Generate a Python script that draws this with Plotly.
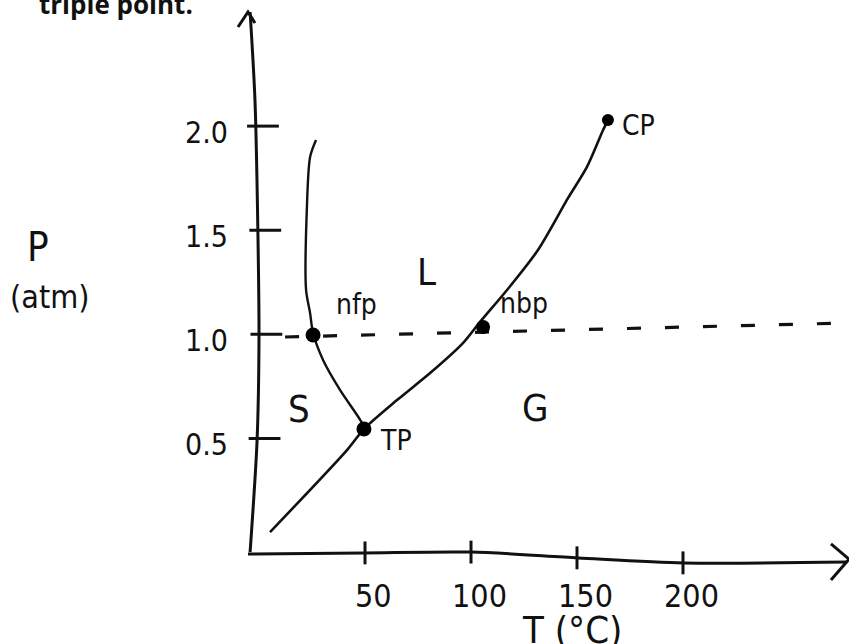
import numpy as np
import plotly.graph_objects as go

# Phase diagram sketch: T in °C, P in atm

# solid-liquid boundary (from triple point upwards)
sl_T = [49.5, 48.6, 38.2, 30.2, 25.5, 24.1, 22.2, 22.6, 24.1, 26.9]
sl_P = [0.545, 0.574, 0.733, 0.877, 1.006, 1.102, 1.213, 1.611, 1.852, 1.933]

# solid-gas + liquid-gas boundary, ending at the critical point
lg_T = [5.2, 41.5, 49.5, 65.1, 80.7, 96.2, 104.2, 117.0, 131.6, 145.8, 154.7, 162.3, 164.6]
lg_P = [0.050, 0.444, 0.545, 0.684, 0.814, 0.958, 1.059, 1.213, 1.405, 1.655, 1.804, 1.981, 2.029]

# marked points
pt_names = ["nfp", "TP", "nbp", "CP"]
pt_T = [25.5, 49.5, 105.7, 164.6]
pt_P = [0.997, 0.545, 1.035, 2.029]
pt_label_T = [46.2, 64.6, 125.0, 178.8]
pt_label_P = [1.141, 0.492, 1.150, 2.005]

# dashed 1 atm line
atm_T = [12.3, 276.4]
atm_P = [0.987, 1.054]

# hand drawn axes
yax_T = [-4.2, -0.9, 0.0, -0.5, -1.9, -4.2]
yax_P = [-0.046, 0.492, 0.987, 1.477, 2.125, 2.548]
yarrow_T = [-9.9, -5.2, -1.9]
yarrow_P = [2.476, 2.548, 2.495]
xax_T = [-5.2, 49.5, 100.0, 150.5, 200.5, 277.4]
xax_P = [-0.055, -0.050, -0.046, -0.074, -0.098, -0.094]
xarrow_T = [269.8, 278.3, 269.8]
xarrow_P = [-0.007, -0.080, -0.180]

x_ticks = [50, 100, 150, 200]
x_tick_text = ["50", "100", "150", "200"]
y_ticks = [0.5, 1.0, 1.5, 2.0]
y_tick_text = ["0.5", "1.0", "1.5", "2.0"]

# phase region labels
region_names = ["S", "L", "G"]
region_T = [18.9, 79.2, 130.2]
region_P = [0.641, 1.299, 0.646]

INK = "#111111"
HAND = "DejaVu Sans Condensed, DejaVu Sans, sans-serif"

fig = go.Figure()


def stroke(x, y, width=2.6, dash=None, shape="spline"):
    fig.add_trace(go.Scatter(
        x=x, y=y, mode="lines", hoverinfo="skip", showlegend=False,
        line=dict(color=INK, width=width, dash=dash, shape=shape, smoothing=0.8),
    ))


stroke(yax_T, yax_P, width=3)
stroke(yarrow_T, yarrow_P, width=3, shape="linear")
stroke(xax_T, xax_P, width=3)
stroke(xarrow_T, xarrow_P, width=3, shape="linear")

# tick marks, hung off the hand drawn axes
for v in y_ticks:
    t0 = float(np.interp(v, yax_P, yax_T))
    stroke([t0 - 4, t0 + 11], [v, v], width=3, shape="linear")
for v in x_ticks:
    p0 = float(np.interp(v, xax_T, xax_P))
    stroke([v, v], [p0 + 0.055, p0 - 0.055], width=3, shape="linear")

stroke(atm_T, atm_P, width=3.2, dash="14px,24px", shape="linear")
stroke(sl_T, sl_P, width=2.4)
stroke(lg_T, lg_P, width=2.6)

fig.add_trace(go.Scatter(
    x=pt_T, y=pt_P, mode="markers", hoverinfo="skip", showlegend=False, opacity=1,
    marker=dict(color="#000000", size=[15, 15, 14, 12], opacity=1, line=dict(width=0)),
))

annotations = []


def label(text, x, y, size, family=HAND, **kw):
    annotations.append(dict(
        text=text, x=x, y=y, xref="x", yref="y", showarrow=False,
        font=dict(family=family, size=size, color=INK), **kw,
    ))


for v, s in zip(y_ticks, y_tick_text):
    label(s, -25, v - 0.03, 30)
for v, s in zip(x_ticks, x_tick_text):
    label(s, v + 4, -0.255, 32)

for name, x, y in zip(pt_names, pt_label_T, pt_label_P):
    label(name, x, y, 28)
for name, x, y in zip(region_names, region_T, region_P):
    label(name, x, y, 38)

label("P", -104.2, 1.419, 40)
label("(atm)", -98.6, 1.179, 32)
label("T (°C)", 147.6, -0.42, 38)
label("<b>triple point.</b>", -67.5, 2.585, 26, family="Open Sans, sans-serif")

fig.update_layout(
    width=849, height=644,
    margin=dict(l=0, r=0, t=0, b=0),
    paper_bgcolor="white", plot_bgcolor="white",
    xaxis=dict(range=[-122.17, 278.3], visible=False),
    yaxis=dict(range=[-0.4875, 2.6057], visible=False),
    annotations=annotations,
    showlegend=False,
)

# drop the page's default body margin so the sketch sits flush with the window
fig.write_html(
    "out.html",
    config={"displayModeBar": False},
    post_script="document.body.style.margin='0';",
)
